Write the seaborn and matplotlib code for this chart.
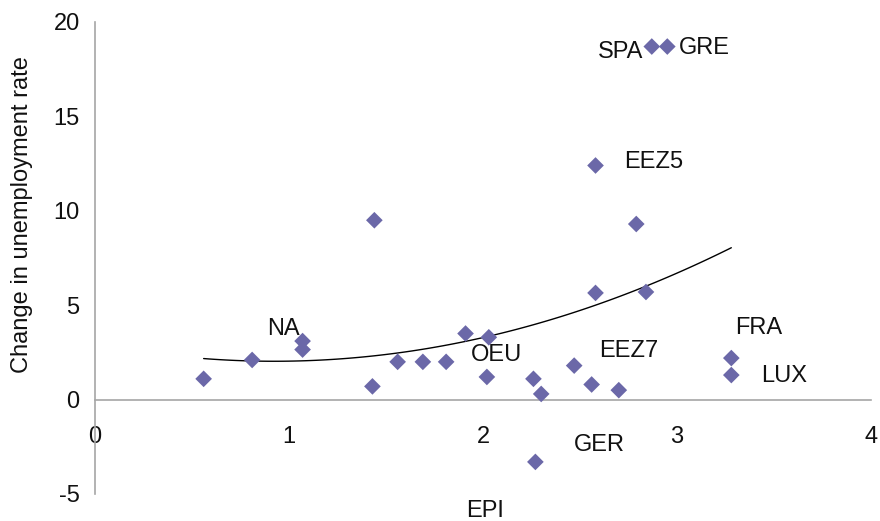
import numpy as np
import pandas as pd
import matplotlib
matplotlib.use("Agg")
import matplotlib.pyplot as plt
import seaborn as sns

# Data
epi = [0.56, 0.81, 1.07, 1.07, 1.43, 1.44, 1.56, 1.69, 1.81, 1.91, 2.03, 2.02,
       2.26, 2.30, 2.27, 2.47, 2.56, 2.70, 2.58, 2.79, 2.58, 2.84, 2.87, 2.95,
       3.28, 3.28]
unemp = [1.1, 2.1, 3.1, 2.65, 0.7, 9.5, 2.0, 2.0, 2.0, 3.5, 3.3, 1.2,
         1.1, 0.3, -3.3, 1.8, 0.8, 0.5, 12.4, 9.3, 5.65, 5.7, 18.7, 18.7,
         2.2, 1.3]

label_text = ["NA", "SPA", "GRE", "EEZ5", "FRA", "LUX", "OEU", "EEZ7", "GER"]
label_x = [0.97, 2.71, 3.14, 2.88, 3.42, 3.55, 2.07, 2.75, 2.60]
label_y = [3.75, 18.4, 18.6, 12.6, 3.8, 1.25, 2.35, 2.55, -2.4]

x_ticks = [0, 1, 2, 3, 4]
y_ticks = [-5, 0, 5, 10, 15, 20]

df = pd.DataFrame({"EPI": epi, "U": unemp})

sns.set_theme(style="white")
plt.rcParams["font.family"] = ["Liberation Sans", "DejaVu Sans"]

fig = plt.figure(figsize=(8.8, 5.21), dpi=100)
ax = fig.add_axes([95/880, 1-494/521, (871-95)/880, (494-22)/521])

marker_color = "#6B68A8"
axis_color = "#A6A6A6"
fs = 17

sns.regplot(data=df, x="EPI", y="U", order=2, scatter=False, ci=None,
            truncate=True, ax=ax, line_kws={"color": "black", "lw": 1.0})
sns.scatterplot(data=df, x="EPI", y="U", marker="D", s=72, color=marker_color,
                edgecolor="none", ax=ax, zorder=3)

for t, lx, ly in zip(label_text, label_x, label_y):
    ax.text(lx, ly, t, ha="center", va="center", fontsize=fs, color="#111111")

ax.set_xlim(0, 4)
ax.set_ylim(-5, 20)
ax.set_xticks(x_ticks)
ax.set_yticks(y_ticks)
ax.set_xticklabels([str(v) for v in x_ticks])
ax.set_yticklabels([str(v) for v in y_ticks])

for s in ["top", "right"]:
    ax.spines[s].set_visible(False)
ax.spines["bottom"].set_position(("data", 0))
ax.spines["left"].set_position(("data", 0))
for s in ["bottom", "left"]:
    ax.spines[s].set_color(axis_color)
    ax.spines[s].set_linewidth(1.2)

ax.tick_params(axis="both", direction="out", length=5, width=1.2,
               color=axis_color, labelsize=fs, labelcolor="#111111")
ax.tick_params(axis="x", pad=14)
ax.tick_params(axis="y", pad=6)

ax.set_xlabel("EPI", fontsize=fs, color="#111111")
ax.set_ylabel("Change in unemployment rate", fontsize=fs, color="#111111")
ax.xaxis.set_label_coords(0.5026, -0.036)
ax.xaxis.label.set_va("center")
ax.yaxis.set_label_coords(-0.094, 0.593)
ax.yaxis.label.set_va("center")

ax.grid(False)
fig.savefig("out.png", dpi=100)
